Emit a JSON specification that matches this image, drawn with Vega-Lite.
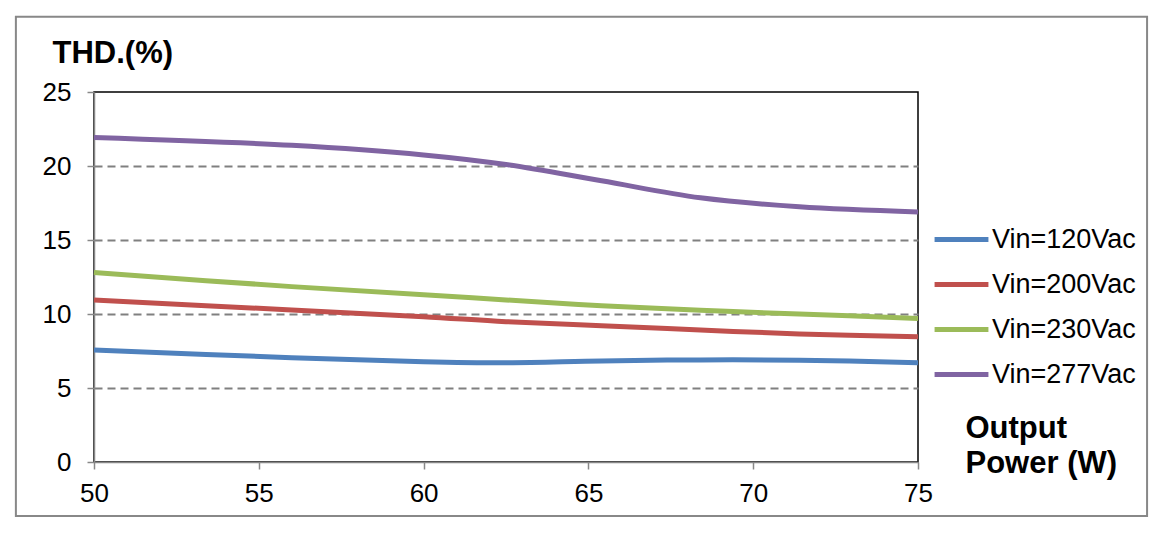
{
  "$schema": "https://vega.github.io/schema/vega-lite/v6.json",
  "width": 824,
  "height": 370,
  "autosize": "none",
  "padding": {"left": 94, "top": 92, "right": 240, "bottom": 71},
  "background": "white",
  "config": {
    "font": "Liberation Sans",
    "view": {"stroke": "black", "strokeWidth": 1.5},
    "axis": {
      "labelFont": "Liberation Sans",
      "labelFontSize": 26,
      "labelColor": "black",
      "labelFlush": false,
      "domainColor": "#888888",
      "domainWidth": 1.5,
      "tickColor": "#888888",
      "tickWidth": 1.5,
      "titleFont": "Liberation Sans",
      "titleFontSize": 31,
      "titleFontWeight": "bold",
      "titleColor": "black"
    }
  },
  "layer": [
    {
      "data": {"values": [{"frame": 1}]},
      "mark": {"type": "rect", "filled": false, "stroke": "#888888", "strokeWidth": 2, "clip": false},
      "encoding": {
        "x": {"datum": 47.63, "type": "quantitative"},
        "x2": {"datum": 81.95},
        "y": {"datum": -3.65, "type": "quantitative"},
        "y2": {"datum": 30.09}
      }
    },
    {
      "data": {
        "values": [
          {"power": 50, "thd": 7.57, "series": "Vin=120Vac"},
          {"power": 56, "thd": 7.05, "series": "Vin=120Vac"},
          {"power": 60, "thd": 6.78, "series": "Vin=120Vac"},
          {"power": 62.5, "thd": 6.71, "series": "Vin=120Vac"},
          {"power": 65.4, "thd": 6.83, "series": "Vin=120Vac"},
          {"power": 68.4, "thd": 6.9, "series": "Vin=120Vac"},
          {"power": 71.4, "thd": 6.88, "series": "Vin=120Vac"},
          {"power": 75, "thd": 6.71, "series": "Vin=120Vac"},
          {"power": 50, "thd": 10.95, "series": "Vin=200Vac"},
          {"power": 56, "thd": 10.27, "series": "Vin=200Vac"},
          {"power": 60, "thd": 9.82, "series": "Vin=200Vac"},
          {"power": 62.5, "thd": 9.48, "series": "Vin=200Vac"},
          {"power": 65.4, "thd": 9.21, "series": "Vin=200Vac"},
          {"power": 68.4, "thd": 8.92, "series": "Vin=200Vac"},
          {"power": 71.4, "thd": 8.65, "series": "Vin=200Vac"},
          {"power": 75, "thd": 8.47, "series": "Vin=200Vac"},
          {"power": 50, "thd": 12.8, "series": "Vin=230Vac"},
          {"power": 56, "thd": 11.85, "series": "Vin=230Vac"},
          {"power": 60, "thd": 11.3, "series": "Vin=230Vac"},
          {"power": 62.5, "thd": 10.95, "series": "Vin=230Vac"},
          {"power": 65.4, "thd": 10.56, "series": "Vin=230Vac"},
          {"power": 68.4, "thd": 10.25, "series": "Vin=230Vac"},
          {"power": 71.4, "thd": 10.0, "series": "Vin=230Vac"},
          {"power": 75, "thd": 9.7, "series": "Vin=230Vac"},
          {"power": 50, "thd": 21.93, "series": "Vin=277Vac"},
          {"power": 56, "thd": 21.4, "series": "Vin=277Vac"},
          {"power": 60, "thd": 20.75, "series": "Vin=277Vac"},
          {"power": 62.5, "thd": 20.1, "series": "Vin=277Vac"},
          {"power": 65.4, "thd": 19.0, "series": "Vin=277Vac"},
          {"power": 68.4, "thd": 17.85, "series": "Vin=277Vac"},
          {"power": 71.4, "thd": 17.25, "series": "Vin=277Vac"},
          {"power": 75, "thd": 16.9, "series": "Vin=277Vac"}
        ]
      },
      "mark": {"type": "line", "interpolate": "catmull-rom", "strokeWidth": 5},
      "encoding": {
        "x": {
          "field": "power",
          "type": "quantitative",
          "scale": {"domain": [50, 75], "nice": false, "zero": false},
          "axis": {
            "values": [50, 55, 60, 65, 70, 75],
            "grid": false,
            "tickSize": 7,
            "labelPadding": 11,
            "title": ["Output", "Power (W)"],
            "titleAnchor": "start",
            "titleAlign": "left",
            "titleBaseline": "alphabetic",
            "titleX": 871,
            "titleY": -25,
            "titleLineHeight": 35
          }
        },
        "y": {
          "field": "thd",
          "type": "quantitative",
          "scale": {"domain": [0, 25], "nice": false},
          "axis": {
            "values": [0, 5, 10, 15, 20, 25],
            "grid": true,
            "gridColor": "#808080",
            "gridDash": [8, 5],
            "gridWidth": 2,
            "gridOpacity": {"condition": {"test": "datum.value == 0 || datum.value == 25", "value": 0}, "value": 1},
            "tickSize": 7,
            "labelPadding": 16,
            "title": "THD.(%)",
            "titleAngle": 0,
            "titleAlign": "left",
            "titleBaseline": "alphabetic",
            "titleX": -42,
            "titleY": -30
          }
        },
        "color": {
          "field": "series",
          "type": "nominal",
          "scale": {
            "domain": ["Vin=120Vac", "Vin=200Vac", "Vin=230Vac", "Vin=277Vac"],
            "range": ["#4F81BD", "#C0504D", "#9BBB59", "#8064A2"]
          },
          "legend": {
            "title": null,
            "orient": "none",
            "legendX": 838,
            "legendY": 118,
            "padding": 0,
            "symbolType": "stroke",
            "symbolSize": 2900,
            "symbolStrokeWidth": 5,
            "labelFont": "Liberation Sans",
            "labelFontSize": 27,
            "labelColor": "black",
            "labelOffset": 1,
            "rowPadding": 2
          }
        }
      }
    }
  ]
}
